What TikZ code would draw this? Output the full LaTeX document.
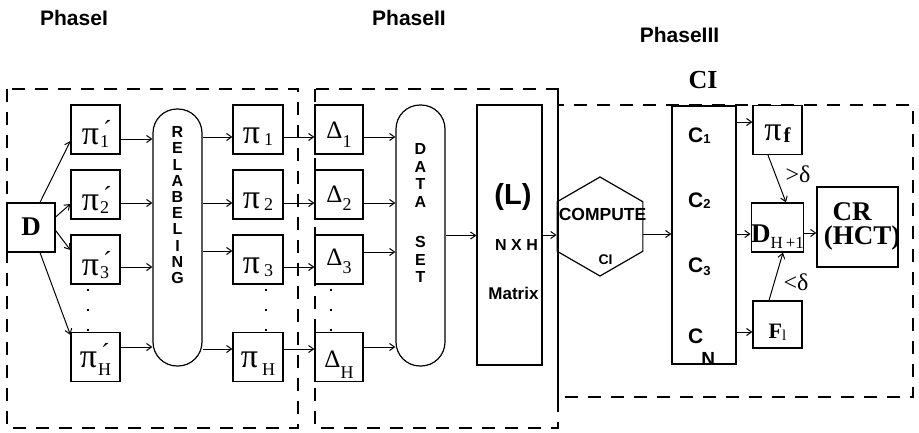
\documentclass[tikz,border=0pt]{standalone}
\usepackage{fontspec}
\setmainfont{Liberation Serif}
\setsansfont{Liberation Sans}
\usetikzlibrary{arrows.meta,shapes.geometric}
\newcommand\fs[1]{\fontsize{#1}{#1}\selectfont}
\newcommand\lab[2]{\raisebox{-#1pt}[0pt][0pt]{#2}}
\newcommand\ppl[3]{\lab{#1}{\fs{34}π\hspace{1pt}\rlap{\hspace{3pt}\raisebox{6pt}{\fs{26}´}}\raisebox{-#2pt}{\fs{18}#3}}}
\newcommand\plab[3]{\lab{#1}{\fs{34}π\hspace{4pt}\raisebox{-#2pt}{\fs{18}#3}}}
\newcommand\dlab[3]{\lab{#1}{\fs{25}Δ\raisebox{-#2pt}{\fs{18}#3}}\hspace{6pt}}
\begin{document}
\begin{tikzpicture}[x=1pt,y=-1pt,
 box/.style={draw,line width=1.2pt,inner sep=0pt,minimum width=49pt,minimum height=49pt},
 pill/.style={draw,line width=1.2pt,rounded corners=24pt,inner sep=0pt,minimum width=49pt},
 tall/.style={draw,line width=1.2pt,inner sep=0pt},
 arr/.style={line width=1pt,-{Straight Barb[length=5pt,width=7pt]}},
 phase/.style={line width=1.1pt,dash pattern=on 13pt off 10pt},
 dots/.style={line width=1.4pt,dash pattern=on 2pt off 18pt},
 ptitle/.style={inner sep=0pt,font=\sffamily\bfseries\fs{21}},
 txt/.style={inner sep=0pt},
 vlet/.style={inner sep=0pt,align=center,anchor=north,font=\sffamily\bfseries\fontsize{16}{16.2}\selectfont},
]
\useasboundingbox (0,0) rectangle (919,432);

% phase frames
\draw[phase] (7,89) rectangle (298,428);
\draw[phase] (315,89) rectangle (558,428);
\draw[phase] (558,105) rectangle (913,397);
\draw[line width=1.1pt] (558,89) -- (558,403);

% titles
\node[ptitle] (t1) at (74,18) {PhaseI};
\node[ptitle] (t2) at (409,18) {PhaseII};
\node[ptitle] (t3) at (679.5,35) {PhaseIII};
\node[txt,font=\bfseries\fs{26}] (cititle) at (703,80) {CI};

% phase I
\node[box,minimum width=48pt] (D) at (31,227.5) {\lab{8}{\fs{27}\bfseries D}};
\node[box] (pp1) at (95.5,129.5) {\ppl{15}{3}{1}};
\node[box] (pp2) at (95.5,194.5) {\ppl{15.5}{3}{2}};
\node[box] (pp3) at (95.5,259.5) {\ppl{15.5}{3}{3}};
\node[box] (ppH) at (95.5,357) {\ppl{10}{8}{H}};
\node[pill,minimum height=257pt] (RL) at (177.5,237.5) {};
\node[vlet] (rlt) at (177.5,126.5) {R\\E\\L\\A\\B\\E\\L\\I\\N\\G};
\node[box,minimum width=50pt] (p1) at (258,129.5) {\plab{13.5}{2}{1}};
\node[box,minimum width=50pt] (p2) at (258,194.5) {\plab{13.5}{2}{2}};
\node[box,minimum width=50pt] (p3) at (258,259.5) {\plab{13.5}{3}{3}};
\node[box,minimum width=50pt] (pH) at (258,357) {\plab{10}{8}{H}};

% phase II
\node[box,minimum width=48pt] (d1) at (339,129.5) {\dlab{8.5}{9}{1}};
\node[box,minimum width=48pt] (d2) at (339,194.5) {\dlab{7.5}{8}{2}};
\node[box,minimum width=48pt] (d3) at (339,259.5) {\dlab{5.5}{8}{3}};
\node[box,minimum width=48pt] (dH) at (339,357) {\dlab{10}{11}{H}};
\node[pill,minimum height=261pt] (DS) at (420.5,235.5) {};
\node[vlet,font=\sffamily\bfseries\fontsize{16}{17.5}\selectfont] (dst) at (420.5,143.5) {D\\A\\T\\A\\[23pt]S\\E\\T};
\node[tall,minimum width=65pt,minimum height=260pt] (Mx) at (509.5,235) {};
\node[txt,font=\sffamily\bfseries\fs{29}] (ltx) at (513,197) {(L)};
\node[txt,font=\sffamily\bfseries\fs{16}] (nxh) at (516.5,245) {N X H};
\node[txt,font=\sffamily\bfseries\fs{17}] (mtx) at (513.5,293) {Matrix};

% phase III
\node[draw,line width=1.2pt,regular polygon,regular polygon sides=6,shape border rotate=30,minimum size=99pt,inner sep=0pt] (hex) at (600,226.5) {};
\node[txt,font=\sffamily\bfseries\fs{17.5}] (cmp) at (602.5,214) {COMPUTE};
\node[txt,font=\sffamily\bfseries\fs{14}] (hci) at (605.5,260) {CI};
\node[tall,minimum width=64pt,minimum height=258pt] (CIb) at (704,235) {};
\node[txt,anchor=base west,font=\sffamily\bfseries] (c1) at (688,142) {{\fs{21}C}\raisebox{-1pt}{\fs{13}1}};
\node[txt,anchor=base west,font=\sffamily\bfseries] (c2) at (688,207) {{\fs{21}C}\raisebox{-1pt}{\fs{13}2}};
\node[txt,anchor=base west,font=\sffamily\bfseries] (c3) at (688,272) {{\fs{21}C}\raisebox{-3pt}{\fs{13}3}};
\node[txt,anchor=base west,font=\sffamily\bfseries] (cN) at (688,343) {{\fs{21}C}\hspace{-2pt}\raisebox{-22pt}{\fs{19}N}};
\node[box] (pf) at (777.5,130) {\lab{10}{\fs{34}π\hspace{2pt}\raisebox{-2pt}{\fs{21}\bfseries f}}};
\node[box] (Dh) at (777.5,227.5) {\lab{14.5}{{\fs{27}\bfseries D}\raisebox{-6pt}{\fs{17}H\,+1}}};
\node[box,minimum height=47pt] (Fl) at (777.5,324.5) {\lab{13.5}{{\fs{22}\bfseries F}\raisebox{-2pt}{\fs{15}l}}\hspace{10pt}};
\node[tall,minimum width=81pt,minimum height=80pt] (CR) at (857.5,227) {};
\node[txt,font=\bfseries\fs{27}] (crt) at (852,212) {CR};
\node[txt,font=\bfseries\fs{27}] (hct) at (862,238) {(HCT)};
\node[txt,font=\fs{24}] (gt) at (798,174) {>δ};
\node[txt,font=\fs{24}] (lt) at (796,282) {<δ};

% dotted continuation
\draw[dots] ([shift={(-7.5pt,-4pt)}]pp3.south) -- ([xshift=-7.5pt]ppH.north);
\draw[dots] ([shift={(8pt,-4pt)}]p3.south) -- ([xshift=8pt]pH.north);
\draw[dots] ([shift={(-8pt,-4pt)}]d3.south) -- ([xshift=-8pt]dH.north);

% arrows D -> pi'
\draw[arr] ([xshift=9pt]D.north) -- ([yshift=-11.5pt]pp1.west);
\draw[arr] ([yshift=10.5pt]D.east) -- ([yshift=-9.5pt]pp2.west);
\draw[arr] ([yshift=-3pt]D.east) -- ([yshift=9.5pt]pp3.west);
\draw[arr] ([xshift=9pt]D.south) -- ([yshift=-3pt]ppH.north west);
% pi' -> relabeling
\draw[arr] ([yshift=-9.5pt]pp1.east) -- ([yshift=-9.5pt]pp1.east -| RL.west);
\draw[arr] ([yshift=-8.5pt]pp2.east) -- ([yshift=-8.5pt]pp2.east -| RL.west);
\draw[arr] ([yshift=-7.5pt]pp3.east) -- ([yshift=-7.5pt]pp3.east -| RL.west);
\draw[arr] ([yshift=10pt]ppH.east) -- ([yshift=10pt]ppH.east -| RL.west);
% relabeling -> pi
\draw[arr] ([yshift=-7.5pt]p1.west -| RL.east) -- ([yshift=-7.5pt]p1.west);
\draw[arr] ([yshift=-8.5pt]p2.west -| RL.east) -- ([yshift=-8.5pt]p2.west);
\draw[arr] ([yshift=8.5pt]p3.west -| RL.east) -- ([yshift=8.5pt]p3.west);
\draw[arr] ([yshift=8pt]pH.west -| RL.east) -- ([yshift=8pt]pH.west);
% pi -> Delta
\draw[arr] ([yshift=-7.5pt]p1.east) -- ([yshift=-7.5pt]p1.east -| d1.west);
\draw[arr] ([yshift=-8.5pt]p2.east) -- ([yshift=-8.5pt]p2.east -| d2.west);
\draw[arr] ([yshift=-7.5pt]p3.east) -- ([yshift=-7.5pt]p3.east -| d3.west);
\draw[arr] ([yshift=8pt]pH.east) -- ([yshift=8pt]pH.east -| dH.west);
% Delta -> data set
\draw[arr] ([yshift=-7.5pt]d1.east) -- ([yshift=-7.5pt]d1.east -| DS.west);
\draw[arr] ([yshift=-8.5pt]d2.east) -- ([yshift=-8.5pt]d2.east -| DS.west);
\draw[arr] ([yshift=7.5pt]d3.east) -- ([yshift=7.5pt]d3.east -| DS.west);
\draw[arr] ([yshift=10pt]dH.east) -- ([yshift=10pt]dH.east -| DS.west);
% chain
\draw[arr] (DS.east) -- (DS.east -| Mx.west);
\draw[arr] (Mx.east) -- (Mx.east -| hex.west);
\draw[arr] ([yshift=-7.5pt]hex.east) -- ([yshift=-7.5pt]hex.east -| CIb.west);
\draw[arr] ([yshift=8pt]pf.west -| CIb.east) -- ([yshift=8pt]pf.west);
\draw[arr] ([yshift=-6.5pt]Dh.west -| CIb.east) -- ([yshift=-6.5pt]Dh.west);
\draw[arr] ([yshift=-7.5pt]Fl.west -| CIb.east) -- ([yshift=-7.5pt]Fl.west);
\draw[arr] ([xshift=-9.5pt]pf.south) -- ([xshift=8.5pt]Dh.north);
\draw[arr] ([xshift=-8.5pt]Fl.north) -- ([xshift=5.5pt]Dh.south);
\draw[arr] ([yshift=-5.5pt]Dh.east) -- ([yshift=-5.5pt]Dh.east -| CR.west);
\end{tikzpicture}
\end{document}
